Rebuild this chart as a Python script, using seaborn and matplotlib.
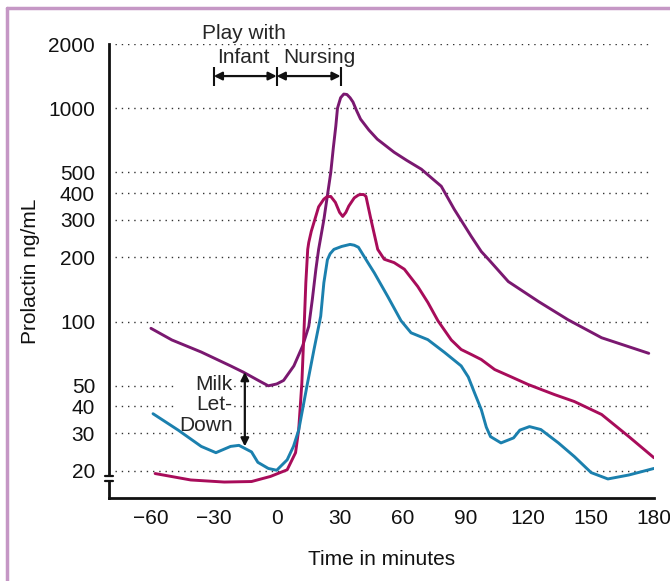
import numpy as np
import pandas as pd
import matplotlib
matplotlib.use("Agg")
import matplotlib.pyplot as plt
import matplotlib.ticker as mticker
from matplotlib.lines import Line2D
import seaborn as sns

sns.set_style("white")
plt.rcParams['font.family'] = ['Liberation Sans', 'DejaVu Sans']

# curve readings (time in minutes, prolactin ng/mL)
top_t = [-60, -50, -36, -22, -16, -8, -4, 0, 3.3, 8.2, 12.4, 15.3, 17, 18.7, 20, 22.5,
         25.8, 27, 28.2, 29, 30.5, 32, 33.5, 35, 36.4, 38, 40, 44, 48, 56, 62, 69, 74,
         78.5, 84.7, 92.8, 97.6, 101, 110.5, 125, 139, 155, 177.5]
top_v = [93, 82, 72, 62, 58, 52.5, 50, 51, 53, 62, 77, 95, 127, 176, 218, 300,
         500, 650, 824, 1000, 1120, 1165, 1160, 1120, 1069, 980, 889, 790, 716, 622, 570,
         518, 470, 431, 336, 251, 213, 196, 154, 124, 102, 84, 71]

mid_t = [-58, -41, -25, -12, -3, 5, 9, 10.5, 12, 13, 13.9, 14.8, 15.3, 16.5, 17.8, 20,
         22.5, 24, 25.8, 28, 30, 31.5, 33, 34.4, 37, 39, 40, 41.5, 42.6, 45, 48.2, 51.3,
         56, 60.9, 67.3, 72.1, 76.9, 83.3, 88, 93, 97.6, 104, 112, 120, 132.5, 142, 155,
         168, 180]
mid_v = [19.4, 18.1, 17.7, 17.8, 18.8, 20.2, 24.3, 31.2, 51.5, 89, 152, 218, 235, 265, 292,
         345, 375, 385, 386, 362, 325, 311, 325, 348, 380, 392, 394, 394, 386, 300, 218,
         196, 189, 176, 146, 123, 101, 82, 74, 70, 66.4, 59.6, 55, 50.7, 45.5, 42.2, 36.7,
         28.9, 23]

low_t = [-59, -47, -36, -29, -22, -18, -12, -9, -4, 0, 5, 8, 10.5, 14.7, 17.8,
         21, 22.5, 24.2, 25.5, 27.3, 31, 35, 37, 39, 43.5, 46.6, 53, 59.3, 64.1, 72.1,
         80, 88, 91.4, 94.4, 97.6, 100, 102, 107, 113, 116, 120.6, 126, 134.4, 142, 150,
         158, 168, 180]
low_v = [37, 31, 26, 24.3, 26, 26.3, 24.5, 21.9, 20.5, 20.1, 22.5, 26, 31, 51.5, 74,
         106, 152, 195, 208, 218, 225, 230, 228, 223, 189, 169, 131, 101, 88.6, 82.3,
         71.8, 62, 55, 46.3, 38.7, 32, 28.9, 27, 28.5, 31, 32.2, 31.2, 27, 23.3, 19.6,
         18.3, 19.1, 20.5]

grid_vals = [20, 30, 40, 50, 100, 200, 300, 400, 500, 1000, 2000]
x_major = [-60, -30, 0, 30, 60, 90, 120, 150, 180]

df = pd.concat([
    pd.DataFrame({'t': top_t, 'v': top_v, 's': 'top'}),
    pd.DataFrame({'t': mid_t, 'v': mid_v, 's': 'mid'}),
    pd.DataFrame({'t': low_t, 'v': low_v, 's': 'low'}),
])
palette = {'top': '#7a1870', 'mid': '#a80c5a', 'low': '#1b80ae'}

fs = 15

fig = plt.figure(figsize=(6.7, 5.81), dpi=100)
ax = fig.add_axes([109 / 670, 83 / 581, 545 / 670, 454 / 581])

ax.set_yscale('log')
ax.set_xlim(-80, 180)
ax.set_ylim(14.9, 2000)

ax.hlines(grid_vals, -77, 178, colors='#333333', linestyles=(0, (1, 3.5)),
          linewidth=1.0, zorder=1)

sns.lineplot(data=df, x='t', y='v', hue='s', palette=palette, sort=False,
             estimator=None, linewidth=2.1, legend=False, ax=ax, zorder=3,
             solid_joinstyle='round', solid_capstyle='round')

# axes styling
for side in ['top', 'right']:
    ax.spines[side].set_visible(False)
for side in ['left', 'bottom']:
    ax.spines[side].set_linewidth(2.0)
    ax.spines[side].set_color('#111111')

ax.yaxis.set_major_locator(mticker.FixedLocator(grid_vals))
ax.yaxis.set_major_formatter(mticker.FixedFormatter([str(v) for v in grid_vals]))
ax.yaxis.set_minor_locator(mticker.NullLocator())
ax.xaxis.set_major_locator(mticker.FixedLocator(x_major))
ax.xaxis.set_minor_locator(mticker.MultipleLocator(10))
ax.tick_params(axis='x', which='both', direction='in', length=7, width=1.2,
               colors='#111111', labelsize=fs, pad=8)
ax.tick_params(axis='y', which='major', direction='in', length=5, width=1.2,
               colors='#111111', labelsize=fs, pad=10)

ax.set_xlabel('Time in minutes', fontsize=fs, labelpad=16, color='#111111')
ax.set_ylabel('Prolactin ng/mL', fontsize=fs, labelpad=6, color='#111111')

# axis break on y
trans = ax.get_yaxis_transform()
ax.add_patch(plt.Rectangle((-0.012, 17.96), 0.024, 18.9 - 17.96, transform=trans,
                           facecolor='white', edgecolor='none', clip_on=False, zorder=5))
for yb in [17.96, 18.9]:
    ax.add_line(Line2D([-0.0075, 0.0075], [yb, yb], transform=trans, color='#111111',
                       lw=1.6, clip_on=False, zorder=6))

# play / nursing annotation
ax.text(-15.5, 2250, 'Play with', ha='center', va='center', fontsize=fs, clip_on=False)
ax.text(-16, 1720, 'Infant', ha='center', va='center', fontsize=fs, clip_on=False)
ax.text(20.5, 1720, 'Nursing', ha='center', va='center', fontsize=fs, clip_on=False)
ax.vlines([-30, 0, 30.5], 1270, 1560, colors='#111111', linewidth=1.5, clip_on=False)
for a, b in [(-30, 0), (0, 30.5)]:
    ax.annotate('', xy=(b, 1415), xytext=(a, 1415),
                arrowprops=dict(arrowstyle='<|-|>', color='#111111', lw=1.6,
                                mutation_scale=12, shrinkA=0, shrinkB=0))

# milk let-down annotation (white box hides the grid dots, not the curves)
ax.text(-21, 40.8, 'Milk\nLet-\nDown', ha='right', va='center', fontsize=fs,
        multialignment='right', linespacing=1.1,
        bbox=dict(facecolor='white', edgecolor='none', pad=1), zorder=2)
ax.annotate('', xy=(-15.2, 58), xytext=(-15.2, 26),
            arrowprops=dict(arrowstyle='<|-|>', color='#111111', lw=1.6,
                            mutation_scale=12, shrinkA=0, shrinkB=0), zorder=5)

# frame around the figure
bc = '#c597c5'
fig.add_artist(Line2D([7 / 670, 1], [1 - 8 / 581, 1 - 8 / 581], transform=fig.transFigure,
                      color=bc, lw=2.5))
fig.add_artist(Line2D([7 / 670, 7 / 670], [0, 1 - 8 / 581], transform=fig.transFigure,
                      color=bc, lw=2.5))

fig.savefig('out.png', dpi=100)
